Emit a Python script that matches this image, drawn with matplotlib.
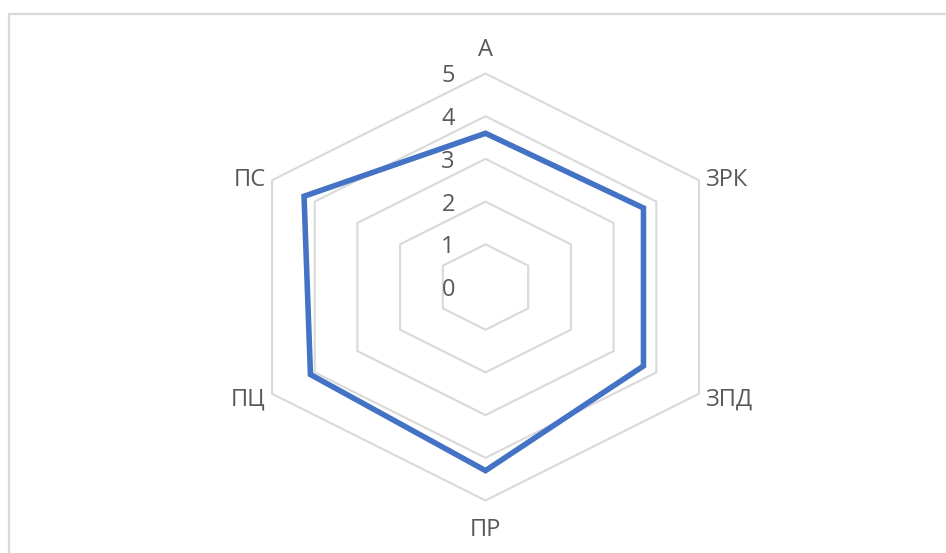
import numpy as np
import matplotlib
matplotlib.use("Agg")
import matplotlib.pyplot as plt
from matplotlib.patches import Rectangle, Polygon

categories = ["А", "ЗРК", "ЗПД", "ПР", "ПЦ", "ПС"]
values = [3.6, 3.7, 3.7, 4.3, 4.1, 4.25]
levels = [0, 1, 2, 3, 4, 5]

W, H = 946, 553
fig = plt.figure(figsize=(W / 100, H / 100), dpi=100)
fig.patch.set_facecolor("white")

# chart frame, cut off at right and bottom as in the source
fig.patches.append(Rectangle((9 / W, -0.1), 1.2, 1 - 14 / H + 0.1, transform=fig.transFigure,
                             fill=False, edgecolor="#d9d9d9", linewidth=1.6, figure=fig))

ax = fig.add_axes([0, 0, 1, 1])
cx, cy = 485.5, 287.0
ux, uy = 49.3, 42.7
ax.set_xlim(-cx / ux, (W - cx) / ux)
ax.set_ylim(-(H - cy) / uy, cy / uy)
ax.axis("off")

n = len(categories)
ang = np.arange(n) * 2 * np.pi / n
sx, sy = np.sin(ang), np.cos(ang)

grid_col = "#d9d9d9"
for lv in levels[1:]:
    ax.add_patch(Polygon(np.column_stack([lv * sx, lv * sy]), closed=True, fill=False,
                         edgecolor=grid_col, lw=1.5, zorder=1))

v = np.array(values)
ax.add_patch(Polygon(np.column_stack([v * sx, v * sy]), closed=True, fill=False,
                     edgecolor="#4472c4", lw=4.0, joinstyle="miter", zorder=3))

txt = dict(color="#595959", fontsize=17, family=["Open Sans", "DejaVu Sans"])
dy = -0.07  # small downward nudge of all labels
for lv in levels:
    ax.text(-0.62, lv + dy, str(lv), ha="right", va="center", zorder=4, **txt)

for a, lab in zip(ang, categories):
    s, c = np.sin(a), np.cos(a)
    if abs(s) < 1e-6:
        ax.text(0, 5.62 * np.sign(c) + dy, lab, ha="center", va="center", **txt)
    else:
        ax.text(5.15 * s, 5.15 * c + dy, lab,
                ha="left" if s > 0 else "right", va="center", **txt)

fig.savefig("out.png", dpi=100)
